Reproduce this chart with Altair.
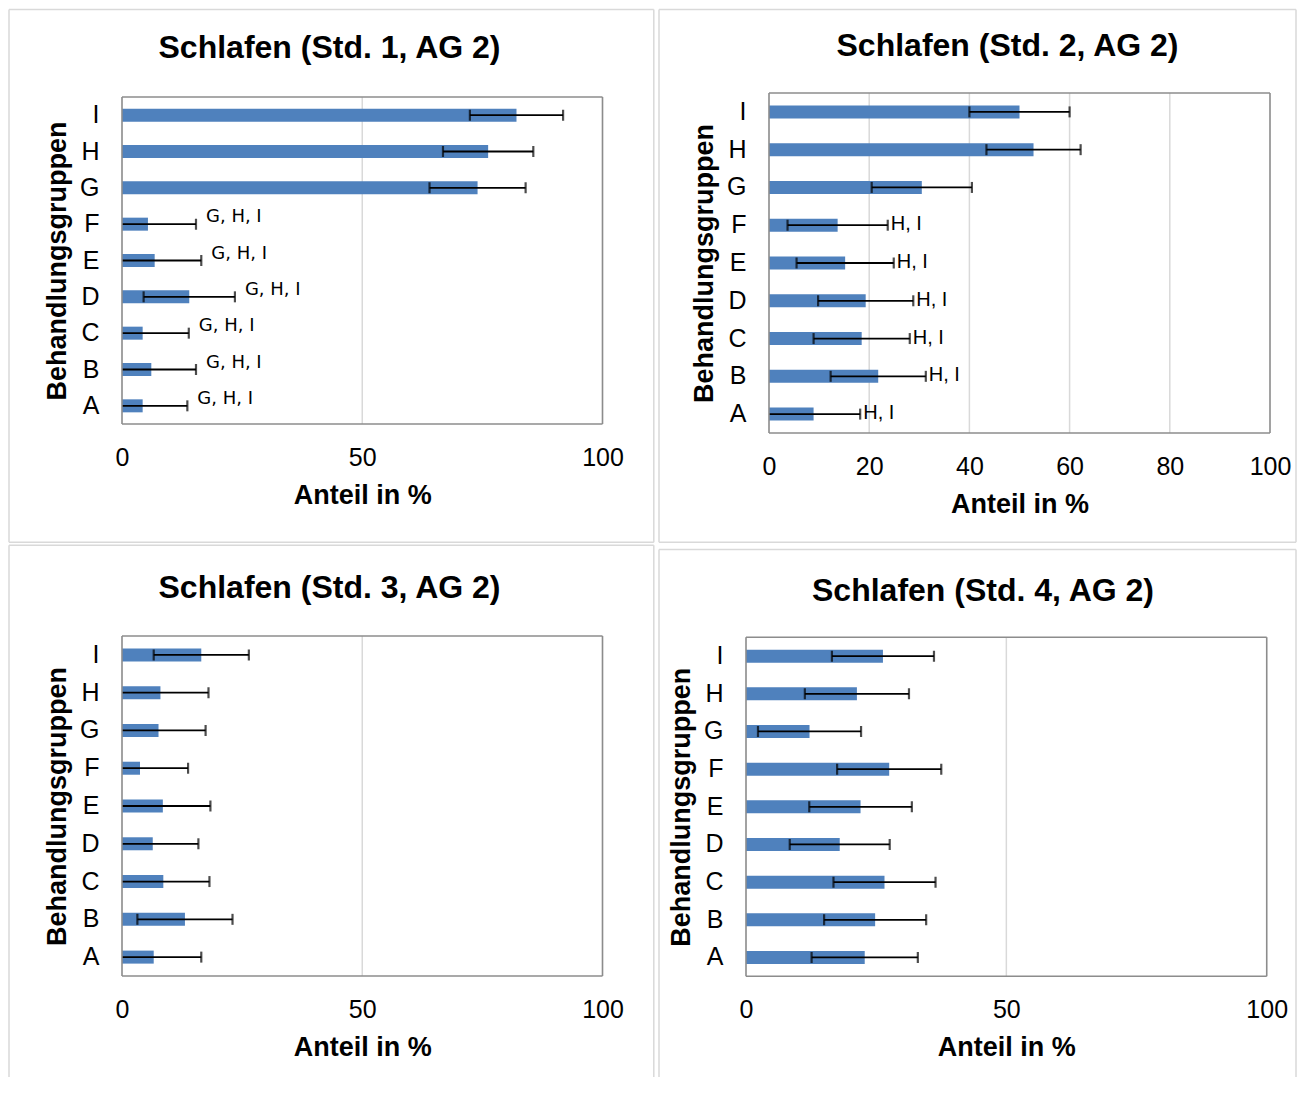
import altair as alt
import pandas as pd

groups = ["A", "B", "C", "D", "E", "F", "G", "H", "I"]
order = ["I", "H", "G", "F", "E", "D", "C", "B", "A"]

# Panel 1 (Std. 1)
mean1 = [4.3, 6.1, 4.3, 14.0, 6.8, 5.4, 74.0, 76.2, 82.1]
err1 = [9.3, 9.3, 9.6, 9.5, 9.7, 10.0, 10.0, 9.4, 9.7]
lab1 = ["G, H, I", "G, H, I", "G, H, I", "G, H, I", "G, H, I", "G, H, I", "", "", ""]

# Panel 2 (Std. 2)
mean2 = [8.9, 21.8, 18.5, 19.3, 15.2, 13.7, 30.5, 52.8, 50.0]
err2 = [9.3, 9.5, 9.6, 9.5, 9.7, 10.0, 10.0, 9.4, 10.0]
lab2 = ["H, I", "H, I", "H, I", "H, I", "H, I", "H, I", "", "", ""]

# Panel 3 (Std. 3)
mean3 = [6.6, 13.1, 8.6, 6.4, 8.5, 3.75, 7.6, 8.0, 16.5]
err3 = [9.9, 9.9, 9.6, 9.5, 9.9, 10.0, 9.8, 10.0, 9.9]
lab3 = [""] * 9

# Panel 4 (Std. 4)
mean4 = [22.8, 24.8, 26.6, 18.0, 22.0, 27.5, 12.2, 21.3, 26.3]
err4 = [10.2, 9.8, 9.8, 9.6, 9.85, 10.0, 9.9, 10.0, 9.8]
lab4 = [""] * 9

titles = ["Schlafen (Std. 1, AG 2)", "Schlafen (Std. 2, AG 2)",
          "Schlafen (Std. 3, AG 2)", "Schlafen (Std. 4, AG 2)"]
ticks_a = [0, 50, 100]
ticks_b = [0, 20, 40, 60, 80, 100]

FONT = "Liberation Sans"
FRAME = "#D9D9D9"
BORDER = "#8C8C8C"
GRID = "#D9D9D9"
one = pd.DataFrame({"k": [0]})


def line(color, **enc):
    return alt.Chart(one).mark_rule(color=color, strokeWidth=1.5).encode(**enc)


def panel(mean, err, labs, title, ticks, W, H, top, tx, ty, frame, with_bottom,
          lab_font, lab_size, lab_dx, lab_dy):
    df = pd.DataFrame({"grp": groups, "mean": mean, "err": err, "lab": labs})
    base = alt.Chart(df).transform_calculate(
        lo="datum.mean - datum.err", hi="datum.mean + datum.err")
    xscale = alt.Scale(domain=[0, 100], nice=False, zero=True)
    xaxis = alt.Axis(values=ticks, title="Anteil in %", grid=False, labelFlush=False,
                     titleY=71, titleBaseline="middle", labelPadding=21)
    yenc = alt.Y("grp:N", sort=order,
                 scale=alt.Scale(paddingInner=0, paddingOuter=0, range=[top, top + H]),
                 axis=alt.Axis(title="Behandlungsgruppen", titleX=-65, titleY=top + H / 2,
                               titleAngle=270, titleBaseline="middle", titleAlign="center",
                               labelPadding=23, grid=False))
    grid = alt.Chart(pd.DataFrame({"v": ticks})).mark_rule(
        color=GRID, strokeWidth=1.5).encode(
        x=alt.X("v:Q", scale=xscale, axis=xaxis), y=alt.value(top), y2=alt.value(top + H))
    bars = base.mark_bar(size=13, color="#4F81BD").encode(
        x=alt.X("mean:Q", scale=xscale, axis=xaxis), y=yenc)
    rule = base.mark_rule(color="black", strokeWidth=1.8, clip=True).encode(
        x=alt.X("lo:Q", scale=xscale, axis=xaxis), x2="hi:Q", y=yenc)
    cap_hi = base.mark_tick(color="black", size=11, thickness=2.2, clip=True).encode(
        x=alt.X("hi:Q", scale=xscale, axis=xaxis), y=yenc)
    cap_lo = base.mark_tick(color="black", size=11, thickness=2.2, clip=True).encode(
        x=alt.X("lo:Q", scale=xscale, axis=xaxis), y=yenc)
    labels = base.mark_text(align="left", baseline="middle", dx=lab_dx, dy=lab_dy,
                            font=lab_font, fontSize=lab_size, color="black").encode(
        x=alt.X("hi:Q", scale=xscale, axis=xaxis), y=yenc, text="lab:N")
    ttl = alt.Chart(pd.DataFrame({"t": [title]})).mark_text(
        font=FONT, fontSize=32, fontWeight="bold", align="center",
        baseline="middle", color="black").encode(
        x=alt.value(tx), y=alt.value(ty), text="t:N")
    # plot-area border
    border = [
        line(BORDER, x=alt.value(0), y=alt.value(top), y2=alt.value(top + H)),
        line(BORDER, x=alt.value(W), y=alt.value(top), y2=alt.value(top + H)),
        line(BORDER, x=alt.value(0), x2=alt.value(W), y=alt.value(top)),
        line(BORDER, x=alt.value(0), x2=alt.value(W), y=alt.value(top + H)),
    ]
    # outer chart-area frame
    fl, ft, fr, fb = frame
    outer = [
        line(FRAME, x=alt.value(fl), y=alt.value(ft), y2=alt.value(fb)),
        line(FRAME, x=alt.value(fr), y=alt.value(ft), y2=alt.value(fb)),
        line(FRAME, x=alt.value(fl), x2=alt.value(fr), y=alt.value(ft)),
    ]
    if with_bottom:
        outer.append(line(FRAME, x=alt.value(fl), x2=alt.value(fr), y=alt.value(fb)))
    layers = [grid, bars, rule, cap_hi, cap_lo, labels, ttl] + border + outer
    return alt.layer(*layers).properties(width=W, height=top + H)


p1 = panel(mean1, err1, lab1, titles[0], ticks_a, 480.5, 327, 4, 207.5, -45,
           (-113, -83.5, 531.8, 449.3), True, "DejaVu Sans", 18, 10, -7)
p2 = panel(mean2, err2, lab2, titles[1], ticks_b, 501, 340, 0, 238.5, -47,
           (-110, -83.5, 527, 449.2), True, FONT, 20, 3, -1)
p3 = panel(mean3, err3, lab3, titles[2], ticks_a, 480.5, 340, 0, 207.5, -48.5,
           (-113, -90.7, 531.8, 441), False, FONT, 20, 3, 0)
p4 = panel(mean4, err4, lab4, titles[3], ticks_a, 520.7, 339, 1.3, 237, -45,
           (-87, -86.5, 550, 441), False, FONT, 20, 3, 0)

row1 = alt.hconcat(p1, p2, spacing=3)
row2 = alt.hconcat(p3, p4, spacing=3)

chart = alt.vconcat(row1, row2, spacing=0).properties(
    padding=0, background="white"
).configure_view(
    strokeWidth=0
).configure_axis(
    labelFont=FONT, labelFontSize=25, labelColor="black",
    titleFont=FONT, titleFontSize=27, titleFontWeight="bold", titleColor="black",
    domain=False, ticks=False, tickSize=0
)

chart.save("out.html", embed_options={"renderer": "svg", "actions": False})
